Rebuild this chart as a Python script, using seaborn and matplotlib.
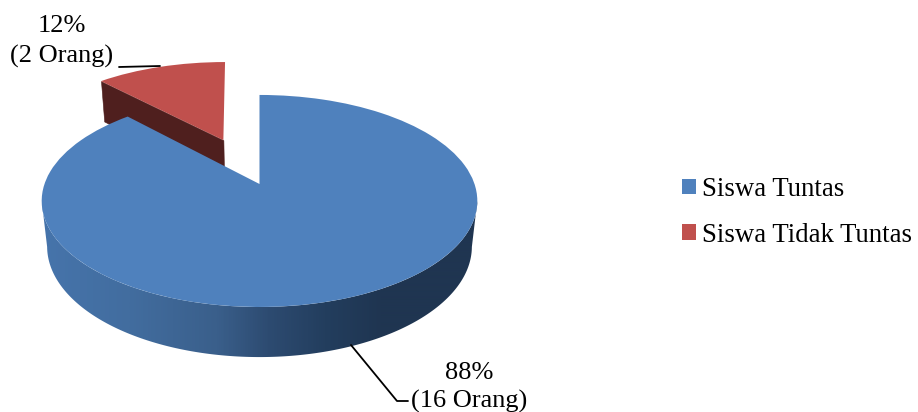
import numpy as np
import matplotlib
matplotlib.use("Agg")
import matplotlib.pyplot as plt
from matplotlib.collections import PolyCollection
from matplotlib.colors import LinearSegmentedColormap
from matplotlib.patches import Polygon
from matplotlib.transforms import Transform
import seaborn as sns

# Chart content
categories = ["Siswa Tuntas", "Siswa Tidak Tuntas"]
percentages = [88, 12]
student_counts = [16, 2]
offsets = [0, 0.49]

# Projection of the tilted disc onto the canvas (pixel units)
ORIGIN = (259.5, 184.0)
X_SCALE, Y_SCALE, TILT = 215.0, 103.3, 0.16
DROP, SHRINK = 46.4, 0.025
SLICE_LEAN = -3.0

sns.set_theme(style="white")
plt.rcParams["font.family"] = ["Liberation Serif", "DejaVu Serif"]
palette = sns.color_palette(["#4F81BD", "#C0504D"])


def project(u, v, low=False, lean=0.0):
    den = 1 + TILT * v + (SHRINK if low else 0)
    x = ORIGIN[0] + X_SCALE * u / den + lean * (v - 0.456)
    y = ORIGIN[1] - (Y_SCALE * v - (DROP if low else 0)) / den
    return x, y


class DiscProjection(Transform):
    input_dims = output_dims = 2
    is_separable = False
    has_inverse = False

    def __init__(self, lean=0.0):
        super().__init__()
        self.lean = lean

    def transform_non_affine(self, values):
        values = np.asarray(values)
        x, y = project(values[:, 0], values[:, 1], lean=self.lean)
        return np.column_stack([x, y])


fig = plt.figure(figsize=(9.18, 4.12), dpi=100)
ax = fig.add_axes([0, 0, 1, 1])
wedges, _ = ax.pie(percentages, explode=offsets, startangle=90, counterclock=False,
                   colors=palette, radius=1, wedgeprops={"linewidth": 0})

blue, red = wedges
blue.set_transform(DiscProjection() + ax.transData)
red.set_transform(DiscProjection(SLICE_LEAN) + ax.transData)
blue.set_zorder(5)
red.set_zorder(3)

# Cut face of the pulled-out slice
cx, cy = red.center
edge = np.radians(red.theta2)
ex, ey = cx + np.cos(edge), cy + np.sin(edge)
cut_face = [project(cx, cy, lean=SLICE_LEAN), project(ex, ey, lean=SLICE_LEAN),
            project(ex, ey, True, SLICE_LEAN), project(cx, cy, True, SLICE_LEAN)]
ax.add_collection(PolyCollection([cut_face], facecolors="#4F1F1E", edgecolors="#4F1F1E",
                                 linewidths=0.4, zorder=2))

# Shaded rim of the large slice: a horizontal gradient clipped to the rim outline.
# The rim spans the front of the disc between its two widest points.
shade = LinearSegmentedColormap.from_list(
    "rim",
    [(0.0, "#4674AB"), (0.2, "#426D9F"), (0.4, "#3A5F8B"), (0.52, "#2D4B71"),
     (0.65, "#233E5E"), (0.78, "#1F3551"), (1.0, "#1F3551")],
)
widest = np.degrees(np.arcsin(TILT))
angles = np.radians(np.linspace(-180 + widest, -widest, 400))
upper = [project(np.cos(a), np.sin(a)) for a in angles]
lower = [project(np.cos(a), np.sin(a), True) for a in angles[::-1]]
rim_outline = Polygon(upper + lower, closed=True, transform=ax.transData,
                      facecolor="none", edgecolor="none")
ax.add_patch(rim_outline)
rim = ax.imshow(np.linspace(0, 1, 436)[None, :], cmap=shade, aspect="auto",
                extent=(42, 478, 400, 150), zorder=4, interpolation="bilinear")
rim.set_clip_path(rim_outline)

ax.set_xlim(0, 918)
ax.set_ylim(412, 0)
ax.axis("off")

# Data labels with their leader lines
label_size = 19.0
ax.text(62, 26, f"{percentages[1]}%", ha="center", va="center", fontsize=label_size, color="black")
ax.text(62, 56, f"({student_counts[1]} Orang)", ha="center", va="center", fontsize=label_size, color="black")
ax.plot([119, 160], [67, 66], color="black", lw=1.3, zorder=6)
ax.text(469, 373, f"{percentages[0]}%", ha="center", va="center", fontsize=label_size, color="black")
ax.text(469, 401, f"({student_counts[0]} Orang)", ha="center", va="center", fontsize=label_size, color="black")
ax.plot([351, 397, 408], [345, 401, 401], color="black", lw=1.3, zorder=6)

ax.legend(wedges, categories, loc="upper left", bbox_to_anchor=(682 / 918, 1 - 177 / 412),
          frameon=False, fontsize=19.3, handlelength=0.54, handleheight=0.54,
          handletextpad=0.2, labelspacing=0.78, borderpad=0, borderaxespad=0,
          labelcolor="black")

fig.savefig("out.png", dpi=100)
